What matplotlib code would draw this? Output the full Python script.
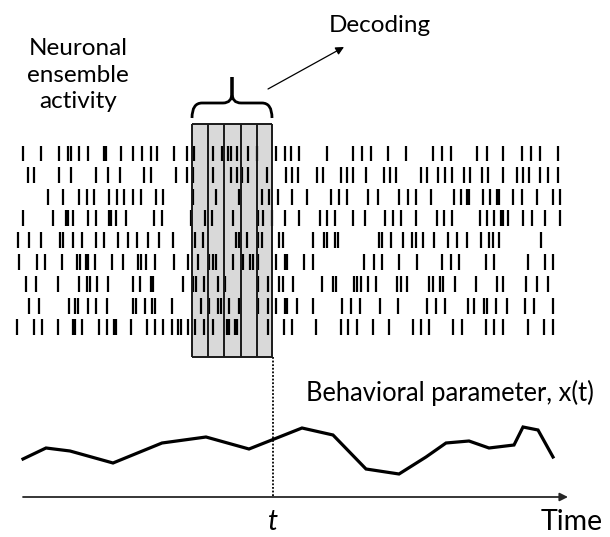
"""Schematic: decoding a behavioural parameter from neuronal ensemble activity."""

import matplotlib
matplotlib.use("Agg")
import matplotlib.pyplot as plt
from matplotlib.path import Path
from matplotlib.patches import PathPatch, Rectangle

plt.rcParams["font.family"] = ["Lato", "DejaVu Sans"]

# Canvas works in pixel units of the 610 x 537 reference (y grows downwards).
W, H = 610, 537

# Raster: one row per neuron, spike positions along time (px)
ROW_Y = [153.5, 175, 197, 218, 240, 262, 284, 306, 327]
SPIKES = [
    [23, 41, 59, 68, 71, 79, 88, 104, 106, 121, 133, 142, 151, 157, 174, 187,
     194, 213, 222, 228, 231, 237, 248, 257, 276, 285, 291, 299, 327, 353,
     362, 371, 388, 406, 433, 442, 451, 477, 487, 503, 522, 531, 540, 558],
    [28, 34, 59, 71, 96, 108, 120, 144, 151, 176, 187, 193, 213, 231, 237,
     242, 248, 267, 286, 292, 298, 317, 323, 341, 347, 353, 366, 384, 390,
     396, 421, 427, 438, 445, 452, 464, 470, 482, 488, 503, 517, 523, 529,
     540, 548, 558],
    [48, 63, 79, 87, 94, 109, 117, 124, 133, 141, 156, 163, 193, 216, 239,
     262, 269, 278, 292, 307, 331, 339, 347, 368, 378, 399, 408, 416, 431,
     454, 461, 467, 469, 483, 490, 497, 499, 513, 522, 537, 553, 560],
    [23, 53, 66, 68, 73, 88, 96, 109, 111, 116, 126, 154, 162, 191, 205, 212,
     233, 258, 263, 272, 285, 299, 320, 327, 335, 353, 365, 385, 393, 401,
     416, 437, 444, 452, 480, 487, 494, 501, 503, 508, 523, 532, 545, 560],
    [18, 29, 41, 60, 63, 73, 82, 96, 104, 118, 128, 137, 148, 159, 173, 195,
     203, 236, 239, 247, 258, 262, 279, 283, 313, 324, 327, 335, 338, 379,
     382, 391, 403, 412, 416, 423, 434, 448, 457, 467, 481, 489, 493, 499,
     541],
    [19, 37, 45, 62, 77, 80, 86, 88, 95, 112, 123, 138, 141, 146, 155, 174,
     188, 198, 209, 213, 216, 233, 243, 250, 253, 258, 276, 285, 287, 304,
     313, 364, 374, 382, 399, 417, 442, 451, 459, 486, 494, 528, 545, 553],
    [26, 36, 58, 79, 87, 90, 97, 108, 133, 140, 151, 153, 183, 193, 196, 204,
     218, 225, 258, 268, 279, 283, 293, 322, 333, 336, 354, 357, 361, 368,
     376, 397, 401, 407, 429, 433, 440, 443, 455, 476, 497, 503, 526, 537,
     548],
    [29, 39, 69, 75, 78, 88, 96, 107, 133, 136, 145, 152, 155, 172, 201, 209,
     218, 221, 229, 239, 258, 268, 276, 285, 287, 297, 313, 342, 351, 360,
     380, 398, 427, 436, 445, 468, 474, 484, 487, 496, 507, 525, 534, 553],
    [17, 34, 42, 58, 73, 75, 82, 99, 107, 114, 116, 131, 147, 155, 163, 172,
     178, 181, 188, 195, 204, 213, 227, 229, 235, 237, 268, 284, 292, 316,
     341, 348, 357, 373, 389, 413, 421, 429, 453, 462, 486, 494, 503, 528,
     544, 553],
]

# Decoding window split into time bins
BIN_EDGES = [192, 208.3, 224, 240.5, 256.5, 272]
BOX_TOP, BOX_BOTTOM = 124, 357

# Behavioural parameter x(t)
BEHAV_X = [23, 46, 70, 113, 162, 206, 249, 302, 333, 366, 399, 426, 446,
           469, 489, 514, 523, 538, 553]
BEHAV_Y = [459, 448, 451, 463, 443, 437, 449, 428, 435, 469, 474, 457, 443,
           441, 448, 445, 427, 430, 457]

T_NOW = 273
AXIS_Y = 497

fig = plt.figure(figsize=(W / 100, H / 100), dpi=100)
ax = fig.add_axes([0, 0, 1, 1])
ax.set_xlim(0, W)
ax.set_ylim(H, 0)
ax.axis("off")

# grey decoding window behind the spikes
ax.add_patch(Rectangle((BIN_EDGES[0], BOX_TOP), BIN_EDGES[-1] - BIN_EDGES[0],
                       BOX_BOTTOM - BOX_TOP, facecolor="#d9d9d9",
                       edgecolor="none", zorder=0))

half = 7.8
for y, xs in zip(ROW_Y, SPIKES):
    ax.vlines(xs, y - half, y + half, color="black", linewidth=1.6, zorder=2)

ax.vlines(BIN_EDGES, BOX_TOP, BOX_BOTTOM, color="#1a1a1a", linewidth=1.4,
          zorder=3)
ax.hlines([BOX_TOP, BOX_BOTTOM], BIN_EDGES[0], BIN_EDGES[-1], color="#1a1a1a",
          linewidth=1.4, zorder=3)

# curly brace over the window
x0, x1 = BIN_EDGES[0], BIN_EDGES[-1]
xm = (x0 + x1) / 2
yb, ya, yt = 118, 103, 77
verts = [(x0, yb), (x0, ya), (x0 + 10, ya),
         (xm - 9, ya),
         (xm, ya), (xm, ya - 10),
         (xm, yt),
         (xm, ya - 10),
         (xm, ya), (xm + 9, ya),
         (x1 - 10, ya),
         (x1, ya), (x1, yb)]
codes = [Path.MOVETO, Path.CURVE3, Path.CURVE3,
         Path.LINETO,
         Path.CURVE3, Path.CURVE3,
         Path.LINETO,
         Path.LINETO,
         Path.CURVE3, Path.CURVE3,
         Path.LINETO,
         Path.CURVE3, Path.CURVE3]
ax.add_patch(PathPatch(Path(verts, codes), facecolor="none",
                       edgecolor="black", linewidth=2.0, capstyle="butt"))

ax.annotate("", xy=(344, 47), xytext=(268, 89),
            arrowprops=dict(arrowstyle="-|>", color="black", lw=0.9,
                            mutation_scale=12, shrinkA=0, shrinkB=0))

fs = 17.5
ax.text(380, 25, "Decoding", fontsize=fs, ha="center", va="center")
ax.text(78, 75, "Neuronal\nensemble\nactivity", fontsize=fs, ha="center",
        va="center", linespacing=1.3)

# behaviour trace, time axis and current-time marker
ax.plot(BEHAV_X, BEHAV_Y, color="black", linewidth=2.3,
        solid_joinstyle="miter")
ax.vlines(T_NOW, BOX_BOTTOM, AXIS_Y, color="black", linewidth=1.3,
          linestyles=(0, (1, 1)))
ax.annotate("", xy=(568, AXIS_Y), xytext=(23, AXIS_Y),
            arrowprops=dict(arrowstyle="-|>", color="#262626", lw=1.3,
                            mutation_scale=12, shrinkA=0, shrinkB=0))

ax.text(594, 393, "Behavioral parameter, x(t)", fontsize=18.4, ha="right",
        va="center")
ax.text(T_NOW, 522, "t", fontsize=20.5, style="italic", ha="center",
        va="center")
ax.text(603, 522, "Time", fontsize=20.5, ha="right", va="center")

fig.savefig("out.png", dpi=100)
